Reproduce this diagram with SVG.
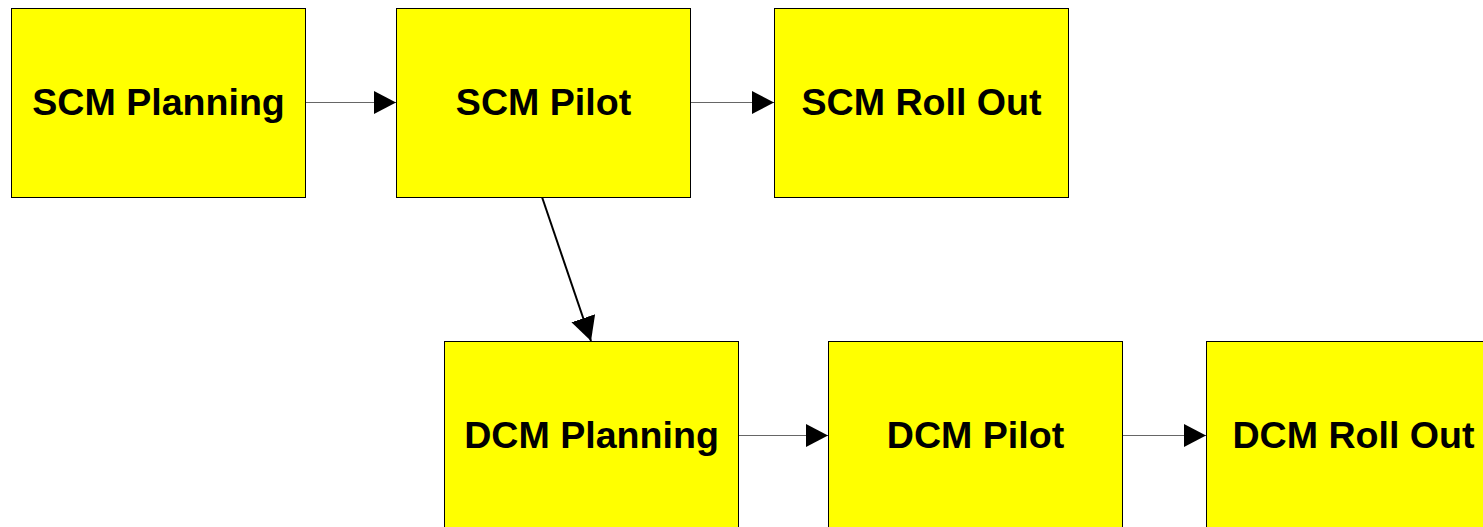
<svg xmlns="http://www.w3.org/2000/svg" width="1483" height="527" viewBox="0 0 1483 527">
  <style>
    .box { fill: #ffff00; stroke: #000; stroke-width: 1; }
    .label { font-family: "Liberation Sans", Arial, sans-serif; font-weight: bold; font-size: 37.6px; fill: #000; text-anchor: middle; }
    .flow { stroke: #666; stroke-width: 1; fill: none; }
    .branch { stroke: #000; stroke-width: 2; fill: none; }
  </style>
  <defs>
    <marker id="head" markerUnits="userSpaceOnUse" viewBox="0 0 22 23" refX="22" refY="11.5" markerWidth="22" markerHeight="23" orient="auto">
      <path d="M0,0 L22,11.5 L0,23 Z" fill="#000"/>
    </marker>
    <marker id="headBig" markerUnits="userSpaceOnUse" viewBox="0 0 24 25" refX="24" refY="12.5" markerWidth="24" markerHeight="25" orient="auto">
      <path d="M0,0 L24,12.5 L0,25 Z" fill="#000"/>
    </marker>
  </defs>

  <g id="connectors">
    <line class="flow" x1="306" y1="102.5" x2="396" y2="102.5" marker-end="url(#head)"/>
    <line class="flow" x1="691" y1="102.5" x2="774" y2="102.5" marker-end="url(#head)"/>
    <line class="branch" x1="542" y1="197" x2="591" y2="341" marker-end="url(#headBig)"/>
    <line class="flow" x1="739" y1="435.5" x2="828" y2="435.5" marker-end="url(#head)"/>
    <line class="flow" x1="1123" y1="435.5" x2="1206" y2="435.5" marker-end="url(#head)"/>
  </g>

  <g id="scm-planning">
    <rect class="box" x="11.5" y="8.5" width="294" height="189"/>
    <text class="label" x="158.5" y="115">SCM Planning</text>
  </g>
  <g id="scm-pilot">
    <rect class="box" x="396.5" y="8.5" width="294" height="189"/>
    <text class="label" x="543.5" y="115">SCM Pilot</text>
  </g>
  <g id="scm-roll-out">
    <rect class="box" x="774.5" y="8.5" width="294" height="189"/>
    <text class="label" x="921.5" y="115">SCM Roll Out</text>
  </g>
  <g id="dcm-planning">
    <rect class="box" x="444.5" y="341.5" width="294" height="189"/>
    <text class="label" x="591.5" y="448">DCM Planning</text>
  </g>
  <g id="dcm-pilot">
    <rect class="box" x="828.5" y="341.5" width="294" height="189"/>
    <text class="label" x="975.5" y="448">DCM Pilot</text>
  </g>
  <g id="dcm-roll-out">
    <rect class="box" x="1206.5" y="341.5" width="294" height="189"/>
    <text class="label" x="1353.5" y="448">DCM Roll Out</text>
  </g>
</svg>
